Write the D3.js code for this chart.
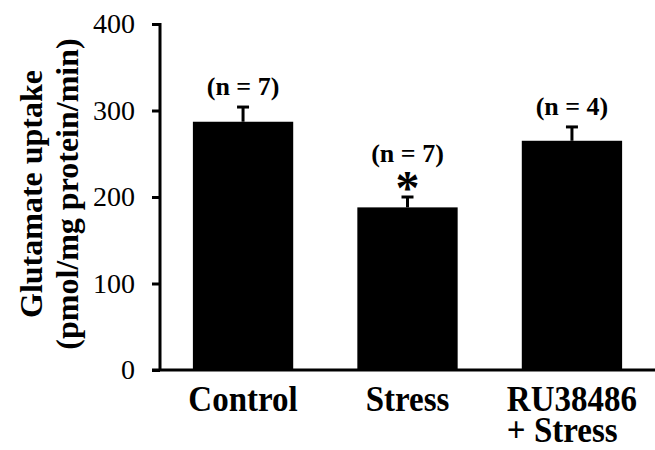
<!DOCTYPE html>
<html>
<head>
<meta charset="utf-8">
<script src="https://cdn.jsdelivr.net/npm/d3@7"></script>
<style>
body { margin: 0; background: #fff; }
text { font-family: "Liberation Serif", "Times New Roman", serif; fill: #000; }
</style>
</head>
<body>
<svg width="655" height="450"></svg>
<script>
// data
var groups = ["Control", "Stress", "RU38486\n+ Stress"];
var means = [287, 188, 265];
var errors = [17, 12, 16];
var nLabels = ["(n = 7)", "(n = 7)", "(n = 4)"];
var signif = [false, true, false];
var yTicks = [0, 100, 200, 300, 400];

var svg = d3.select("svg");
var plotLeft = 160, plotRight = 655, plotTop = 24, plotBottom = 370;

var x = d3.scaleBand().domain(groups).range([plotLeft, plotRight]).paddingInner(0.39).paddingOuter(0.2);
var y = d3.scaleLinear().domain([0, 400]).range([plotBottom, plotTop]);

// bars
svg.selectAll(".bar").data(groups).enter().append("rect")
	.attr("x", function(d){ return x(d); })
	.attr("y", function(d, i){ return y(means[i]); })
	.attr("width", x.bandwidth())
	.attr("height", function(d, i){ return y(0) - y(means[i]); })
	.attr("fill", "#000");

// upper error whiskers
var eb = svg.selectAll(".err").data(groups).enter().append("g");
eb.append("line")
	.attr("x1", function(d){ return x(d) + x.bandwidth()/2; })
	.attr("x2", function(d){ return x(d) + x.bandwidth()/2; })
	.attr("y1", function(d, i){ return y(means[i]); })
	.attr("y2", function(d, i){ return y(means[i] + errors[i]); })
	.attr("stroke", "#000").attr("stroke-width", 3);
eb.append("line")
	.attr("x1", function(d){ return x(d) + x.bandwidth()/2 - 6; })
	.attr("x2", function(d){ return x(d) + x.bandwidth()/2 + 6; })
	.attr("y1", function(d, i){ return y(means[i] + errors[i]); })
	.attr("y2", function(d, i){ return y(means[i] + errors[i]); })
	.attr("stroke", "#000").attr("stroke-width", 3);

// asterisk and n labels
svg.selectAll(".star").data(groups.filter(function(d, i){ return signif[i]; })).enter().append("text")
	.attr("x", function(d){ return x(d) + x.bandwidth()/2; })
	.attr("y", function(d){ var i = groups.indexOf(d); return y(means[i] + errors[i]) + 7; })
	.attr("text-anchor", "middle").attr("font-size", "48px").attr("font-weight", "bold")
	.text("*");
svg.selectAll(".nlab").data(groups).enter().append("text")
	.attr("x", function(d){ return x(d) + x.bandwidth()/2; })
	.attr("y", function(d, i){ return y(means[i] + errors[i]) - (signif[i] ? 35 : 12); })
	.attr("text-anchor", "middle").attr("font-size", "26px").attr("font-weight", "bold")
	.text(function(d, i){ return nLabels[i]; });

// y axis
var ya = svg.append("g").attr("transform", "translate(" + plotLeft + ",0)")
	.call(d3.axisLeft(y).tickValues(yTicks).tickSize(8).tickPadding(17).tickFormat(d3.format("d")));
ya.select(".domain").attr("stroke-width", 3).attr("d", "M0," + (plotTop - 1) + "V" + (plotBottom + 1));
ya.selectAll(".tick line").attr("stroke-width", 3);
ya.selectAll(".tick text").attr("font-size", "28px").attr("font-family", "Liberation Serif, serif");

// x axis line
svg.append("line").attr("x1", plotLeft - 8).attr("x2", plotRight).attr("y1", y(0)).attr("y2", y(0))
	.attr("stroke", "#000").attr("stroke-width", 3);

// category labels, lines left aligned, slightly tall glyphs like the original
groups.forEach(function(g){
	var lines = g.split("\n");
	var t = svg.append("text").attr("font-size", "33px").attr("font-weight", "bold");
	lines.forEach(function(l, j){
		t.append("tspan").attr("y", j * 28).text(l);
	});
	var w = d3.max(t.selectAll("tspan").nodes(), function(n){ return n.getComputedTextLength(); });
	var x0 = x(g) + x.bandwidth()/2 - w/2;
	t.selectAll("tspan").attr("x", 0);
	t.attr("transform", "translate(" + x0 + ",411) scale(1,1.1)");
});

// y title
var yt = svg.append("text").attr("transform", "rotate(-90)")
	.attr("text-anchor", "middle").attr("font-size", "32px").attr("font-weight", "bold");
yt.append("tspan").attr("x", -(plotTop + plotBottom)/2 + 3).attr("y", 42).text("Glutamate uptake");
yt.append("tspan").attr("x", -(plotTop + plotBottom)/2 + 3).attr("y", 78).text("(pmol/mg protein/min)");
</script>
</body>
</html>
